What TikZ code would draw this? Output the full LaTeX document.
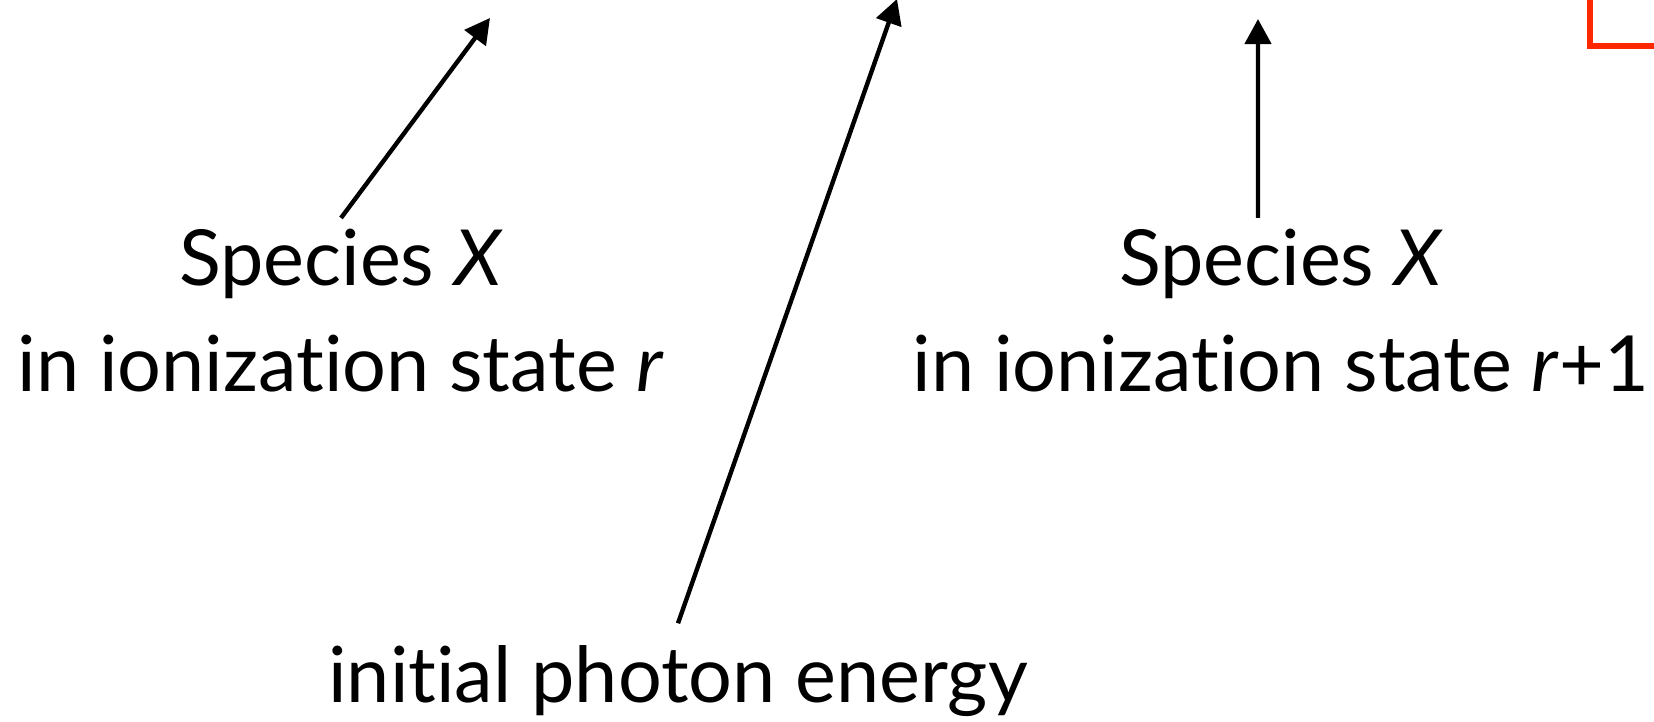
\documentclass[tikz,border=0pt]{standalone}
\usepackage{fontspec}
\setmainfont{Lato}[Ligatures={NoCommon,NoContextual}]
\usepackage{tikz}
\usetikzlibrary{arrows.meta,positioning}
\usepackage{xcolor}
\definecolor{boxred}{RGB}{255,40,0}

\begin{document}
\begin{tikzpicture}[x=0.01cm, y=-0.01cm, every node/.style={inner sep=0pt,align=center,font=\fontsize{22}{30.2}\selectfont}, pointer/.style={-{Triangle[length=2.5mm,width=2.6mm]},line width=1.25pt}]
  \useasboundingbox (0,0) rectangle (1654,722);
  \node[anchor=north] (specL) at (341,228) {Species \textit{X}\\in ionization state \textit{r}};
  \node[anchor=north] (specR) at (1281,228) {Species \textit{X}\\in ionization state \textit{r}+1};
  \node[anchor=base] (energy) at (678,703) {initial photon energy};
  \coordinate (tipL) at (490,18);
  \coordinate (tipE) at (897,-1);
  \coordinate (tipR) at (1258,19);
  \draw[pointer] ([yshift=0.1cm]specL.north) -- (tipL);
  \draw[pointer] ([yshift=0.22cm]energy.north) -- (tipE);
  \draw[pointer] ([xshift=-0.23cm,yshift=0.1cm]specR.north) -- (tipR);
  % red frame, cut by the page edge
  \begin{scope}
    \clip (0,0) rectangle (1654,722);
    \draw[boxred,line width=1.6pt] (1590,46) rectangle (1720,-60);
  \end{scope}
\end{tikzpicture}
\end{document}
